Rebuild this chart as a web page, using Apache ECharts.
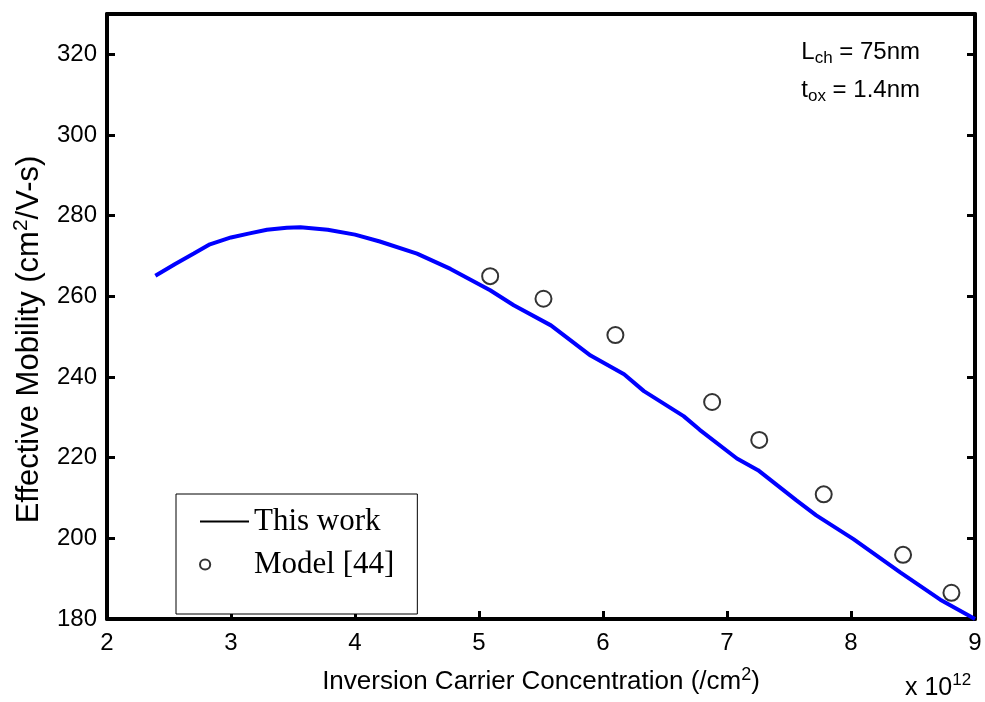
<!DOCTYPE html>
<html>
<head>
<meta charset="utf-8">
<script src="https://cdn.jsdelivr.net/npm/echarts@6/dist/echarts.min.js"></script>
<style>
  html, body { margin: 0; padding: 0; background: #fff; }
  #chart { width: 985px; height: 702px; }
</style>
</head>
<body>
<div id="chart"></div>
<script>
// Inversion carrier concentration (units of 1e12 /cm^2) and effective mobility (cm^2/V-s)
var thisWorkX = [2.39, 2.55, 2.70, 2.83, 3.00, 3.15, 3.29, 3.45, 3.56, 3.78, 4.00, 4.20, 4.50, 4.77, 5.09, 5.28, 5.58, 5.90, 6.17, 6.33, 6.65, 6.78, 7.08, 7.25, 7.56, 7.72, 8.02, 8.40, 8.72, 9.00];
var thisWorkY = [265.1, 268.0, 270.6, 272.9, 274.6, 275.6, 276.5, 277.0, 277.1, 276.5, 275.3, 273.6, 270.6, 266.8, 261.5, 257.8, 252.8, 245.3, 240.7, 236.5, 230.3, 226.9, 219.8, 216.9, 209.4, 205.7, 199.8, 191.5, 184.8, 180.0];

var modelX = [5.09, 5.52, 6.10, 6.88, 7.26, 7.78, 8.42, 8.81];
var modelY = [265.0, 259.4, 250.4, 233.8, 224.4, 210.9, 195.9, 186.5];

var xTicks = [2, 3, 4, 5, 6, 7, 8, 9];
var yTicks = [180, 200, 220, 240, 260, 280, 300, 320];

var seriesNames = ['This work', 'Model [44]'];

function pairs(xs, ys) {
  return xs.map(function (x, i) { return [x, ys[i]]; });
}

var SANS = 'Liberation Sans, Arial, sans-serif';
var SERIF = 'Liberation Serif, Times New Roman, serif';

var axisLine = { show: true, onZero: false, lineStyle: { color: '#000', width: 4 } };
var tickStyle = { show: true, inside: true, length: 8, lineStyle: { color: '#000', width: 3 } };

// legend glyphs: a plain black stroke, and a small ring sitting at the left of the icon slot
var lineIcon = 'path://M0,0H49V2H0Z';
var ringIcon = 'path://M48,5M0,5A5,5,0,1,1,10,5A5,5,0,1,1,0,5Z';

var chart = echarts.init(document.getElementById('chart'), null, { renderer: 'canvas' });

chart.setOption({
  animation: false,
  backgroundColor: '#fff',
  grid: { left: 107, right: 10, top: 14, bottom: 83, containLabel: false },
  xAxis: [{
    type: 'value',
    position: 'bottom',
    min: xTicks[0], max: xTicks[xTicks.length - 1], interval: 1,
    axisLine: axisLine,
    axisTick: tickStyle,
    splitLine: { show: false },
    axisLabel: { color: '#000', fontFamily: SANS, fontSize: 24, margin: 12 },
    name: 'Inversion Carrier Concentration (/cm{sup|2})',
    nameLocation: 'middle',
    nameGap: 47,
    nameTextStyle: {
      color: '#000', fontFamily: SANS, fontSize: 26,
      rich: { sup: { fontSize: 18, fontFamily: SANS, color: '#000', padding: [0, 0, 14, 0] } }
    }
  }, {
    type: 'value',
    position: 'top',
    min: xTicks[0], max: xTicks[xTicks.length - 1], interval: 1,
    axisLine: axisLine,
    axisTick: { show: false },
    axisLabel: { show: false },
    splitLine: { show: false }
  }],
  yAxis: [{
    type: 'value',
    position: 'left',
    min: 180, max: 330, interval: 20,
    axisLine: axisLine,
    axisTick: tickStyle,
    splitLine: { show: false },
    axisLabel: {
      color: '#000', fontFamily: SANS, fontSize: 24, margin: 10,
      showMaxLabel: false,
      formatter: function (v) { return yTicks.indexOf(v) >= 0 ? String(v) : ''; }
    },
    name: 'Effective Mobility (cm{sup|2}/V-s)',
    nameLocation: 'middle',
    nameGap: 59,
    nameTextStyle: {
      color: '#000', fontFamily: SANS, fontSize: 31,
      padding: [0, 46, 0, 0],
      rich: { sup: { fontSize: 21, fontFamily: SANS, color: '#000', padding: [0, 0, 16, 0] } }
    }
  }, {
    type: 'value',
    position: 'right',
    min: 180, max: 330, interval: 20,
    axisLine: axisLine,
    axisTick: tickStyle,
    axisLabel: { show: false },
    splitLine: { show: false }
  }],
  legend: {
    orient: 'vertical',
    left: 176, top: 494,
    padding: [11, 23, 33, 23],
    backgroundColor: '#fff',
    borderColor: '#000',
    borderWidth: 1,
    itemWidth: 49,
    itemHeight: 11,
    itemGap: 10,
    symbolKeepAspect: true,
    textStyle: { color: '#000', fontFamily: SERIF, fontSize: 31, lineHeight: 33 },
    data: [
      { name: seriesNames[0], icon: lineIcon, itemStyle: { color: '#000', borderWidth: 0 } },
      { name: seriesNames[1], icon: ringIcon, itemStyle: { color: '#fff', borderColor: '#000', borderWidth: 2 } }
    ]
  },
  graphic: [{
    type: 'text',
    right: 65, top: 40,
    style: {
      text: 'L{sub|ch} = 75nm',
      fill: '#000',
      font: '24px ' + SANS,
      rich: { sub: { fontSize: 17, fontFamily: SANS, fill: '#000', padding: [13, 0, 0, 0] } }
    }
  }, {
    type: 'text',
    right: 65, top: 78,
    style: {
      text: 't{sub|ox} = 1.4nm',
      fill: '#000',
      font: '24px ' + SANS,
      rich: { sub: { fontSize: 17, fontFamily: SANS, fill: '#000', padding: [13, 0, 0, 0] } }
    }
  }, {
    type: 'text',
    left: 905, top: 672,
    style: {
      text: 'x 10{sup|12}',
      fill: '#000',
      font: '25px ' + SANS,
      rich: { sup: { fontSize: 17, fontFamily: SANS, fill: '#000', padding: [0, 0, 15, 0] } }
    }
  }],
  series: [{
    name: seriesNames[0],
    type: 'line',
    data: pairs(thisWorkX, thisWorkY),
    symbol: 'none',
    smooth: false,
    lineStyle: { color: '#0000ff', width: 4 },
    itemStyle: { color: '#0000ff' },
    z: 3
  }, {
    name: seriesNames[1],
    type: 'scatter',
    data: pairs(modelX, modelY),
    symbol: 'circle',
    symbolSize: 16,
    itemStyle: { color: 'rgba(255,255,255,0)', borderColor: '#000', borderWidth: 2 },
    z: 4
  }]
});
</script>
</body>
</html>
